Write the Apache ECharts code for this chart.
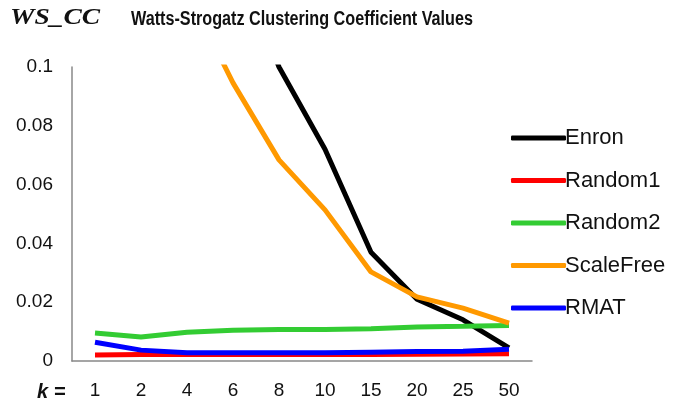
<!DOCTYPE html>
<html>
<head>
<meta charset="utf-8">
<script src="https://cdn.jsdelivr.net/npm/echarts@6/dist/echarts.min.js"></script>
<style>
  html, body { margin: 0; padding: 0; background: #fff; }
  #main { width: 685px; height: 404px; }
</style>
</head>
<body>
<div id="main"></div>
<script>
// k values on the x axis
const kValues = ['1', '2', '4', '6', '8', '10', '15', '20', '25', '50'];

// clustering coefficient per network (values above 0.1 run off the top)
const enron     = [0.35, 0.28, 0.2, 0.14, 0.1, 0.072, 0.037, 0.021, 0.014, 0.0045];
const random1   = [0.002, 0.0022, 0.0022, 0.0022, 0.0022, 0.0022, 0.0022, 0.0023, 0.0024, 0.0025];
const random2   = [0.0095, 0.0082, 0.0098, 0.0105, 0.0107, 0.0107, 0.011, 0.0116, 0.0118, 0.0121];
const scaleFree = [0.3, 0.2, 0.126, 0.0946, 0.0684, 0.0514, 0.0303, 0.0218, 0.018, 0.0129];
const rmat      = [0.0064, 0.0037, 0.0028, 0.0028, 0.0028, 0.0028, 0.003, 0.0032, 0.0033, 0.004];

const yTicks = { min: 0, max: 0.1, interval: 0.02 };

const chart = echarts.init(document.getElementById('main'));

const font = 'Liberation Sans';

// squeeze a text to a given width (the original uses a narrow font)
function fitScale(text, cssFont, width) {
  const ctx = document.createElement('canvas').getContext('2d');
  ctx.font = cssFont;
  return width / ctx.measureText(text).width;
}

const titleText = 'Watts-Strogatz Clustering Coefficient Values';
const titleFont = 'bold 20px "Liberation Sans"';
const tagFont = 'italic bold 24px "Liberation Serif"';

function line(name, data, color) {
  return {
    name: name,
    type: 'line',
    data: data,
    color: color,
    showSymbol: false,
    symbol: 'none',
    lineStyle: { width: 5, color: color },
    clip: true,
    z: 2
  };
}

chart.setOption({
  animation: false,
  backgroundColor: '#fff',
  grid: { left: 72, right: 153, top: 67, bottom: 43 },
  graphic: [
    {
      type: 'text', x: 10, y: 6,
      scaleX: fitScale('WS_CC', tagFont, 90),
      style: { text: 'WS_CC', font: tagFont, fill: '#111' }
    },
    {
      type: 'text', x: 131, y: 9,
      scaleX: fitScale(titleText, titleFont, 342),
      style: { text: titleText, font: titleFont, fill: '#111' }
    },
    {
      type: 'text', left: 37, top: 382,
      style: { text: 'k =', font: 'italic bold 20px "Liberation Sans"', fill: '#111' }
    }
  ],
  legend: {
    orient: 'vertical',
    left: 506,
    top: 122,
    itemGap: 20.5,
    itemWidth: 55,
    itemHeight: 5,
    icon: 'roundRect',
    textStyle: { fontFamily: font, fontSize: 22, color: '#111', lineHeight: 22, padding: [0, 0, 0, -6] },
    data: ['Enron', 'Random1', 'Random2', 'ScaleFree', 'RMAT']
  },
  xAxis: {
    type: 'category',
    data: kValues,
    boundaryGap: true,
    axisLine: { lineStyle: { color: '#888', width: 1.5 } },
    axisTick: { show: false },
    axisLabel: { fontFamily: font, fontSize: 19, color: '#111', margin: 20 },
    splitLine: { show: false }
  },
  yAxis: {
    type: 'value',
    min: yTicks.min,
    max: yTicks.max,
    interval: yTicks.interval,
    axisLine: { show: true, lineStyle: { color: '#888', width: 1.5 } },
    axisTick: { show: false },
    axisLabel: { fontFamily: font, fontSize: 19, color: '#111', margin: 19 },
    splitLine: { show: false }
  },
  series: [
    line('Enron', enron, '#000000'),
    line('Random1', random1, '#ff0000'),
    line('Random2', random2, '#33cc33'),
    line('ScaleFree', scaleFree, '#ff9900'),
    line('RMAT', rmat, '#0000ff')
  ]
});
</script>
</body>
</html>
